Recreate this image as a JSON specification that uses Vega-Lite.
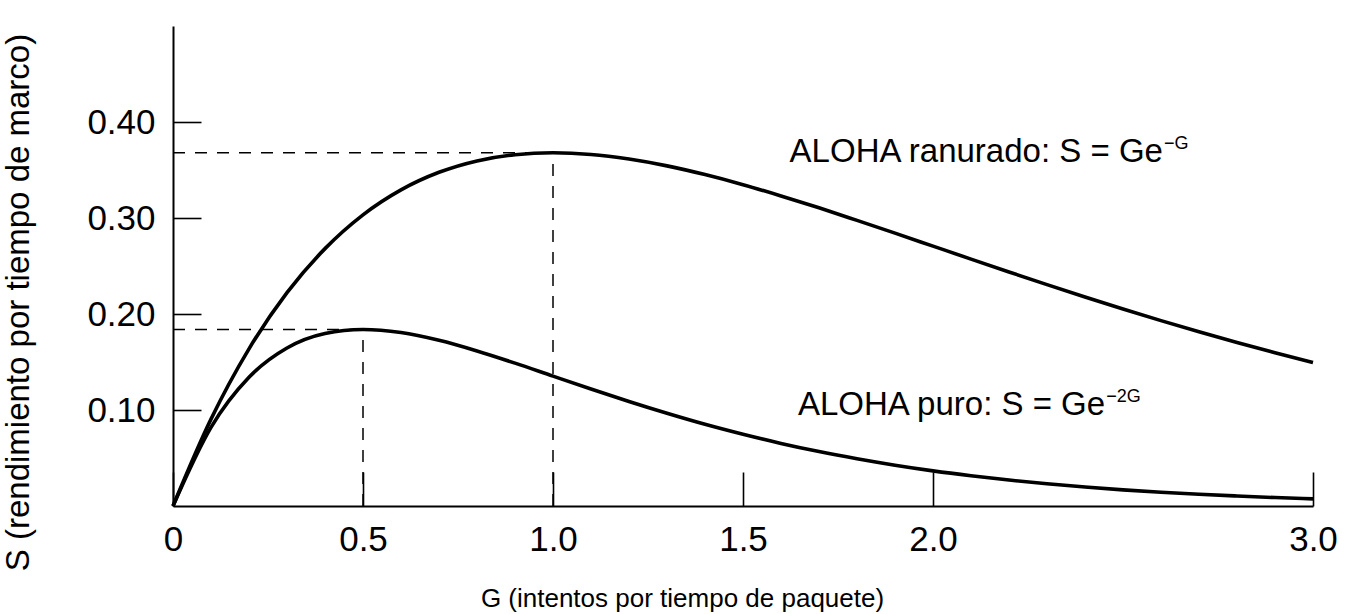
{
  "$schema": "https://vega.github.io/schema/vega-lite/v6.json",
  "width": 1140,
  "height": 480,
  "autosize": {"type": "none"},
  "padding": {"left": 173, "top": 26, "right": 43, "bottom": 108},
  "background": "white",
  "config": {
    "view": {"stroke": null},
    "font": "Liberation Sans",
    "axis": {
      "grid": false,
      "domainColor": "black",
      "domainWidth": 2,
      "tickColor": "black",
      "tickWidth": 1.6,
      "labelColor": "black",
      "labelFont": "Liberation Sans",
      "labelFontSize": 35,
      "titleColor": "black",
      "titleFont": "Liberation Sans",
      "titleFontWeight": "normal"
    }
  },
  "datasets": {
    "curves": [
      {"G": 0.0, "S": 0.0, "curve": "ranurado"},
      {"G": 0.1, "S": 0.0905, "curve": "ranurado"},
      {"G": 0.2, "S": 0.1637, "curve": "ranurado"},
      {"G": 0.3, "S": 0.2222, "curve": "ranurado"},
      {"G": 0.4, "S": 0.2681, "curve": "ranurado"},
      {"G": 0.5, "S": 0.3033, "curve": "ranurado"},
      {"G": 0.6, "S": 0.3293, "curve": "ranurado"},
      {"G": 0.7, "S": 0.3476, "curve": "ranurado"},
      {"G": 0.8, "S": 0.3595, "curve": "ranurado"},
      {"G": 0.9, "S": 0.3659, "curve": "ranurado"},
      {"G": 1.0, "S": 0.3679, "curve": "ranurado"},
      {"G": 1.1, "S": 0.3662, "curve": "ranurado"},
      {"G": 1.2, "S": 0.3614, "curve": "ranurado"},
      {"G": 1.3, "S": 0.3543, "curve": "ranurado"},
      {"G": 1.4, "S": 0.3452, "curve": "ranurado"},
      {"G": 1.5, "S": 0.3347, "curve": "ranurado"},
      {"G": 1.6, "S": 0.3230, "curve": "ranurado"},
      {"G": 1.7, "S": 0.3106, "curve": "ranurado"},
      {"G": 1.8, "S": 0.2975, "curve": "ranurado"},
      {"G": 1.9, "S": 0.2842, "curve": "ranurado"},
      {"G": 2.0, "S": 0.2707, "curve": "ranurado"},
      {"G": 2.1, "S": 0.2572, "curve": "ranurado"},
      {"G": 2.2, "S": 0.2438, "curve": "ranurado"},
      {"G": 2.3, "S": 0.2306, "curve": "ranurado"},
      {"G": 2.4, "S": 0.2177, "curve": "ranurado"},
      {"G": 2.5, "S": 0.2052, "curve": "ranurado"},
      {"G": 2.6, "S": 0.1931, "curve": "ranurado"},
      {"G": 2.7, "S": 0.1815, "curve": "ranurado"},
      {"G": 2.8, "S": 0.1703, "curve": "ranurado"},
      {"G": 2.9, "S": 0.1596, "curve": "ranurado"},
      {"G": 3.0, "S": 0.1494, "curve": "ranurado"},
      {"G": 0.0, "S": 0.0, "curve": "puro"},
      {"G": 0.1, "S": 0.0819, "curve": "puro"},
      {"G": 0.2, "S": 0.1341, "curve": "puro"},
      {"G": 0.3, "S": 0.1646, "curve": "puro"},
      {"G": 0.4, "S": 0.1797, "curve": "puro"},
      {"G": 0.5, "S": 0.1839, "curve": "puro"},
      {"G": 0.6, "S": 0.1807, "curve": "puro"},
      {"G": 0.7, "S": 0.1726, "curve": "puro"},
      {"G": 0.8, "S": 0.1615, "curve": "puro"},
      {"G": 0.9, "S": 0.1488, "curve": "puro"},
      {"G": 1.0, "S": 0.1353, "curve": "puro"},
      {"G": 1.1, "S": 0.1219, "curve": "puro"},
      {"G": 1.2, "S": 0.1089, "curve": "puro"},
      {"G": 1.3, "S": 0.0966, "curve": "puro"},
      {"G": 1.4, "S": 0.0851, "curve": "puro"},
      {"G": 1.5, "S": 0.0747, "curve": "puro"},
      {"G": 1.6, "S": 0.0652, "curve": "puro"},
      {"G": 1.7, "S": 0.0567, "curve": "puro"},
      {"G": 1.8, "S": 0.0492, "curve": "puro"},
      {"G": 1.9, "S": 0.0425, "curve": "puro"},
      {"G": 2.0, "S": 0.0366, "curve": "puro"},
      {"G": 2.1, "S": 0.0315, "curve": "puro"},
      {"G": 2.2, "S": 0.0270, "curve": "puro"},
      {"G": 2.3, "S": 0.0231, "curve": "puro"},
      {"G": 2.4, "S": 0.0198, "curve": "puro"},
      {"G": 2.5, "S": 0.0168, "curve": "puro"},
      {"G": 2.6, "S": 0.0143, "curve": "puro"},
      {"G": 2.7, "S": 0.0122, "curve": "puro"},
      {"G": 2.8, "S": 0.0104, "curve": "puro"},
      {"G": 2.9, "S": 0.0088, "curve": "puro"},
      {"G": 3.0, "S": 0.0074, "curve": "puro"}
    ],
    "guides": [
      {"x1": 0, "x2": 1.0, "y1": 0.3679, "y2": 0.3679},
      {"x1": 1.0, "x2": 1.0, "y1": 0, "y2": 0.3679},
      {"x1": 0, "x2": 0.5, "y1": 0.1839, "y2": 0.1839},
      {"x1": 0.5, "x2": 0.5, "y1": 0, "y2": 0.1839}
    ],
    "labels": [
      {"G": 2.605, "S": 0.358, "main": "ALOHA ranurado: S = Ge", "sup": "−G"},
      {"G": 2.453, "S": 0.0948, "main": "ALOHA puro: S = Ge", "sup": "−2G"}
    ]
  },
  "layer": [
    {
      "data": {"name": "curves"},
      "mark": {"type": "line", "color": "black", "strokeWidth": 3.6, "interpolate": "monotone"},
      "encoding": {
        "x": {
          "field": "G", "type": "quantitative",
          "scale": {"domain": [0, 3], "nice": false, "zero": true},
          "axis": {
            "values": [0, 0.5, 1, 1.5, 2, 3],
            "labelExpr": "datum.value == 0 ? '0' : format(datum.value, '.1f')",
            "tickSize": -34,
            "labelPadding": 50,
            "labelFlush": false,
            "labelOverlap": false,
            "title": "G (intentos por tiempo de paquete)",
            "titleFontSize": 26,
            "titleX": 509,
            "titleY": 100,
            "titleAnchor": null,
            "titleAlign": "center",
            "titleBaseline": "alphabetic"
          }
        },
        "y": {
          "field": "S", "type": "quantitative",
          "scale": {"domain": [0, 0.5], "nice": false},
          "axis": {
            "values": [0.1, 0.2, 0.3, 0.4],
            "format": ".2f",
            "tickSize": -28,
            "labelPadding": 46,
            "labelBaseline": "middle",
            "title": "S (rendimiento por tiempo de marco)",
            "titleFontSize": 33,
            "titleAngle": 270,
            "titleX": -155,
            "titleY": 276,
            "titleAlign": "center",
            "titleBaseline": "middle"
          }
        },
        "detail": {"field": "curve"}
      }
    },
    {
      "data": {"name": "guides"},
      "mark": {"type": "rule", "color": "black", "strokeWidth": 1.5, "strokeDash": [12, 10]},
      "encoding": {
        "x": {"field": "x1", "type": "quantitative"},
        "x2": {"field": "x2"},
        "y": {"field": "y1", "type": "quantitative"},
        "y2": {"field": "y2"}
      }
    },
    {
      "data": {"name": "labels"},
      "mark": {"type": "text", "align": "right", "baseline": "alphabetic", "fontSize": 33, "color": "black", "font": "Liberation Sans"},
      "encoding": {
        "x": {"field": "G", "type": "quantitative"},
        "y": {"field": "S", "type": "quantitative"},
        "text": {"field": "main"}
      }
    },
    {
      "data": {"name": "labels"},
      "mark": {"type": "text", "align": "left", "baseline": "alphabetic", "fontSize": 18, "dx": 1, "dy": -13, "color": "black", "font": "Liberation Sans"},
      "encoding": {
        "x": {"field": "G", "type": "quantitative"},
        "y": {"field": "S", "type": "quantitative"},
        "text": {"field": "sup"}
      }
    }
  ]
}
